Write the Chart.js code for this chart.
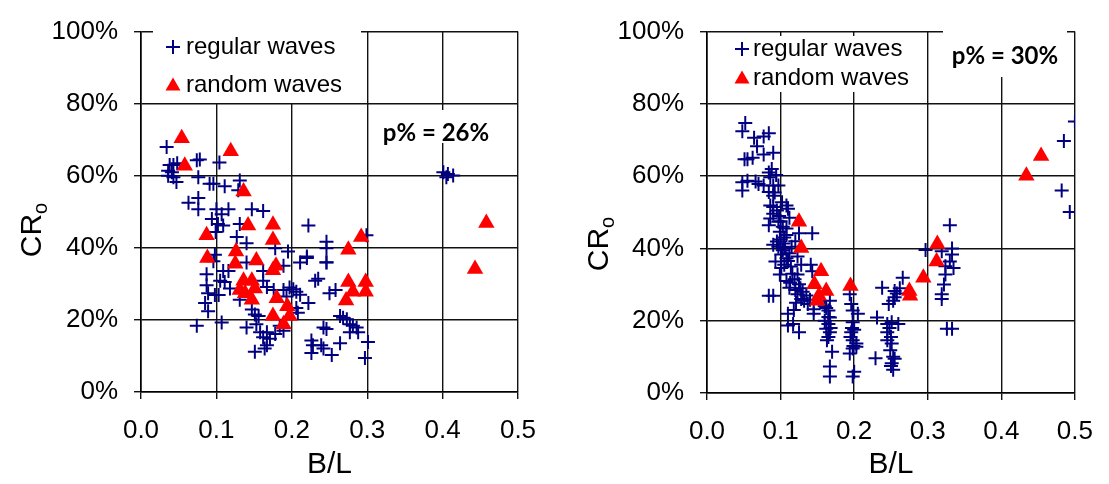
<!DOCTYPE html>
<html>
<head>
<meta charset="utf-8">
<script src="https://cdn.jsdelivr.net/npm/chart.js@4.4.1/dist/chart.umd.min.js"></script>
<style>
  html, body { margin: 0; padding: 0; background: #fff; }
  #wrap { position: relative; width: 1109px; height: 484px; overflow: hidden; }
  .panel { position: absolute; top: 0; height: 484px; }
  #p1 { left: 0; width: 555px; }
  #p2 { left: 555px; width: 554px; }
</style>
</head>
<body>
<div id="wrap">
  <div class="panel" id="p1"><canvas id="c1"></canvas></div>
  <div class="panel" id="p2"><canvas id="c2"></canvas></div>
</div>
<script>
// axis ticks
const xTicks = [0, 0.1, 0.2, 0.3, 0.4, 0.5];
const yTicks = [0, 20, 40, 60, 80, 100];

// left panel (p% = 26%)
const leftRegularX = [0.034,0.038,0.043,0.048,0.036,0.041,0.036,0.043,0.047,0.074,0.078,0.104,0.076,0.091,0.096,0.111,0.131,0.129,0.063,0.076,
  0.076,0.100,0.116,0.147,0.162,0.094,0.102,0.109,0.107,0.131,0.222,0.099,0.127,0.140,0.246,0.246,0.299,0.098,0.096,0.140,
  0.178,0.195,0.220,0.211,0.189,0.246,0.087,0.109,0.116,0.162,0.087,0.105,0.111,0.231,0.235,0.162,0.089,0.098,0.103,0.118,
  0.085,0.089,0.131,0.167,0.176,0.197,0.202,0.206,0.211,0.189,0.193,0.222,0.206,0.208,0.147,0.151,0.156,0.250,0.258,0.074,
  0.107,0.140,0.153,0.158,0.167,0.162,0.171,0.178,0.184,0.189,0.242,0.246,0.264,0.268,0.273,0.277,0.281,0.286,0.277,0.288,
  0.226,0.228,0.239,0.226,0.242,0.253,0.264,0.151,0.164,0.167,0.301,0.297,0.401,0.407,0.414,0.405,0.220,0.246];
const leftRegularY = [68,63,63,63.5,61.4,61,60,59.6,58.3,64.3,64.5,63.7,59.6,57.8,57.8,57.1,58.7,56,52.5,53.8,
  50.7,50.7,50.7,50.7,50.2,48,46.6,46.2,49.3,46.6,46.2,44.4,43,41.3,41.7,39.9,43.5,38.1,36.3,35.9,
  39.9,39,37.2,35.9,35,35.9,32.7,33.6,33.6,33.6,29.6,30.9,30.5,30.9,31.4,30.9,27.4,26.9,26.9,28.7,
  24.7,22.4,25.6,29.1,28.3,29,28.5,27.8,27,28.3,26.5,24.7,23.3,22,22.9,21.5,21.1,27.4,28.3,18.4,
  19.3,17.9,18.8,16.6,16.6,15.2,14.8,16.1,18.4,17,17.9,17.5,21.1,20.6,20.2,18.8,18.4,17.9,16.6,16.6,
  14.3,13,13,10.8,12.1,10.3,13.5,11.2,12.1,13,13.9,9.4,61,60.5,60.1,59.6,37.6,36];
const leftRandomX = [0.054,0.119,0.058,0.136,0.142,0.175,0.175,0.087,0.292,0.126,0.088,0.275,0.125,0.153,0.175,0.179,0.136,
  0.147,0.131,0.151,0.138,0.147,0.180,0.194,0.197,0.175,0.189,0.275,0.281,0.298,0.298,0.272,0.458,0.443];
const leftRandomY = [70.4,66.8,62.8,55.6,46.2,46.4,42.2,43.5,43,39,37.2,39.5,35.6,36.5,33.8,35,30.9,
  30.9,28.3,28.7,27.4,25.6,26,23.8,21.1,21.1,18.8,30.5,27.8,30.5,27.8,25.4,46.9,34.1];

// right panel (p% = 30%)
const rightRegularX = [0.052,0.048,0.064,0.077,0.084,0.068,0.077,0.090,0.051,0.055,0.062,0.084,0.086,0.048,0.055,0.066,0.070,0.048,0.077,0.090,
  0.097,0.084,0.090,0.086,0.090,0.108,0.110,0.090,0.086,0.084,0.097,0.108,0.099,0.108,0.125,0.143,0.095,0.104,0.106,0.101,
  0.108,0.112,0.093,0.101,0.099,0.123,0.128,0.123,0.141,0.143,0.108,0.112,0.084,0.090,0.125,0.123,0.128,0.137,0.145,0.145,
  0.121,0.132,0.110,0.110,0.117,0.125,0.167,0.165,0.167,0.165,0.167,0.163,0.170,0.167,0.167,0.194,0.196,0.198,0.205,0.198,
  0.196,0.198,0.203,0.198,0.194,0.200,0.198,0.231,0.238,0.229,0.247,0.253,0.255,0.266,0.245,0.251,0.260,0.245,0.245,0.251,
  0.249,0.253,0.251,0.253,0.297,0.319,0.324,0.324,0.322,0.319,0.319,0.330,0.333,0.333,0.330,0.335,0.326,0.333,0.500,0.485,
  0.482,0.493,
  0.088,0.094,0.092,0.095,0.102,0.098,0.100,0.103,0.112,0.105,0.100,0.120,0.115,0.090,0.097,0.103,0.110,0.114,0.105,0.116,
  0.119,0.113,0.127,0.130,0.135,0.140,0.118,0.120,0.160,0.162,0.165,0.160,0.168,0.162,0.165,0.197,0.200,0.195,0.199,0.203,
  0.248,0.250,0.255,0.250,0.255,0.258,0.262];
const rightRegularY = [74.7,72.4,70.6,71,71.9,68.3,66,66.5,64.7,64.7,65.1,61,59.7,58.3,58.7,58.5,57.8,56,57.4,57.4,
  57.4,55.6,54.6,51.9,51.5,51.9,51,49.6,48.3,46.4,47.4,45.5,44.6,43.7,44.2,44.2,41.9,41.4,40.1,38.3,
  37.3,38.7,36.4,34.6,32.8,37.8,35.5,32.8,35.5,33.7,31,29.1,26.9,26.9,30.1,27.3,26,24.6,23.2,21.9,
  25,25.5,21.9,18.7,19.1,16.8,25.5,22.8,20.9,19.1,16.8,14.6,11.4,7.3,4.6,27.3,24.6,22.8,21.9,19.6,
  16.8,14.6,13.7,12.3,10.9,5.9,4.6,20.9,29.1,9.6,24.6,25.5,28.2,31.9,19.1,19.6,19.1,16.8,14.6,13.7,
  11.8,10,8.2,6.4,39.6,39.2,35.1,32.8,30,27.3,26,46.4,40,38.3,36.4,34.6,17.8,17.8,75.1,69.7,
  56,50.1,
  62,60.3,55.5,50.5,52.8,49,47.5,46,48.5,43,42.5,42,40.5,41,40.5,39.5,36.5,35,35.5,33,
  31.5,30.5,29,28,27,25.8,23,28.5,24,23.5,21,20,18,17.8,15.5,18,17.5,15.5,13,12.8,
  18,15.5,9.5,7.5,26.5,27.5,29];
const rightRandomX = [0.454,0.434,0.125,0.128,0.155,0.146,0.162,0.152,0.150,0.195,0.275,0.276,0.294,0.312,0.313];
const rightRandomY = [65.6,60.1,47.4,40.1,33.7,30.1,28.2,26.9,25.5,29.6,28.2,26.9,31.9,36.4,41.2];

const NAVY = '#000080';
const RED = '#ff0000';
const FONT = "'Liberation Sans', Arial, sans-serif";

const zip = (xs, ys) => xs.map((x, i) => ({ x: x, y: ys[i] }));

// legend boxes, p% label, CR_o title
const overlay = {
  id: 'overlay',
  beforeDatasetsDraw(chart, args, o) {
    const ctx = chart.ctx;
    ctx.save();
    ctx.fillStyle = '#fff';
    o.boxes.forEach(b => ctx.fillRect(b[0], b[1], b[2], b[3]));
    ctx.restore();
  },
  afterDatasetsDraw(chart, args, o) {
    const ctx = chart.ctx;
    ctx.save();

    // legend: cross
    const lx = o.legend.x, y1 = o.legend.y1, y2 = o.legend.y2;
    ctx.strokeStyle = NAVY;
    ctx.lineWidth = 2;
    ctx.beginPath();
    ctx.moveTo(lx - 7, y1); ctx.lineTo(lx + 7, y1);
    ctx.moveTo(lx, y1 - 7); ctx.lineTo(lx, y1 + 7);
    ctx.stroke();
    // legend: triangle
    ctx.fillStyle = RED;
    ctx.beginPath();
    ctx.moveTo(lx, y2 - 7.5);
    ctx.lineTo(lx + 7.5, y2 + 5.5);
    ctx.lineTo(lx - 7.5, y2 + 5.5);
    ctx.closePath();
    ctx.fill();

    ctx.fillStyle = '#000';
    ctx.font = '24px ' + FONT;
    ctx.textBaseline = 'middle';
    ctx.textAlign = 'left';
    ctx.fillText('regular waves', o.legend.tx, y1);
    ctx.fillText('random waves', o.legend.tx, y2);

    // p% label
    ctx.font = "bold 24px Lato, 'Open Sans', sans-serif";
    ctx.textAlign = 'center';
    ctx.fillText(o.pText, o.p.x, o.p.y);

    // y title CR with subscript o
    ctx.translate(o.title.x, o.title.y);
    ctx.rotate(-Math.PI / 2);
    ctx.font = '30px ' + FONT;
    const wCR = ctx.measureText('CR').width;
    ctx.font = '20px ' + FONT;
    const wO = ctx.measureText('o').width;
    const start = -(wCR + wO) / 2;
    ctx.textAlign = 'left';
    ctx.textBaseline = 'alphabetic';
    ctx.font = '30px ' + FONT;
    ctx.fillText('CR', start, 11);
    ctx.font = '20px ' + FONT;
    ctx.fillText('o', start + wCR, 17);
    ctx.restore();
  }
};

function makeChart(id, regular, random, lay) {
  return new Chart(document.getElementById(id), {
    type: 'scatter',
    data: {
      datasets: [
        {
          label: 'regular waves',
          data: regular,
          order: 1,
          pointStyle: 'cross',
          pointRadius: 7,
          borderWidth: 2,
          borderColor: NAVY,
          backgroundColor: NAVY
        },
        {
          label: 'random waves',
          data: random,
          order: 0,
          pointStyle: 'triangle',
          pointRadius: 9.5,
          borderWidth: 0,
          borderColor: RED,
          backgroundColor: RED
        }
      ]
    },
    options: {
      responsive: true,
      maintainAspectRatio: false,
      animation: false,
      events: [],
      layout: { padding: { left: 0, top: lay.top, right: lay.right, bottom: 0 } },
      plugins: {
        legend: { display: false },
        tooltip: { enabled: false },
        overlay: lay.overlay
      },
      scales: {
        x: {
          type: 'linear',
          min: xTicks[0],
          max: xTicks[xTicks.length - 1],
          afterBuildTicks: s => { s.ticks = xTicks.map(v => ({ value: v })); },
          afterFit: s => { s.height = lay.xH; },
          grid: { color: '#111', lineWidth: 1.4, tickLength: 7 },
          border: { color: '#000', width: 1.6 },
          ticks: {
            color: '#000',
            padding: 16,
            maxRotation: 0,
            font: { family: FONT, size: 26 },
            callback: v => v.toFixed(1)
          },
          title: {
            display: true,
            text: 'B/L',
            color: '#000',
            font: { family: FONT, size: 30 },
            padding: { top: 0, bottom: 1 }
          }
        },
        y: {
          type: 'linear',
          min: yTicks[0],
          max: yTicks[yTicks.length - 1],
          afterBuildTicks: s => { s.ticks = yTicks.map(v => ({ value: v })); },
          afterFit: s => { s.width = lay.yW; },
          grid: { color: '#111', lineWidth: 1.4, tickLength: 7 },
          border: { color: '#000', width: 1.6 },
          ticks: {
            color: '#000',
            padding: 16,
            font: { family: FONT, size: 26 },
            callback: v => v + '%'
          }
        }
      }
    },
    plugins: [overlay]
  });
}

makeChart('c1', zip(leftRegularX, leftRegularY), zip(leftRandomX, leftRandomY), {
  top: 20, right: 37, xH: 92, yW: 141,
  overlay: {
    boxes: [[153, 25, 208, 78], [376, 110, 121, 33]],
    legend: { x: 173, y1: 47, y2: 85, tx: 186 },
    pText: 'p% = 26%',
    p: { x: 436, y: 133 },
    title: { x: 30, y: 230 }
  }
});

makeChart('c2', zip(rightRegularX, rightRegularY), zip(rightRandomX, rightRandomY), {
  top: 27, right: 24, xH: 91, yW: 152,
  overlay: {
    boxes: [[160, 36, 208, 56], [388, 30, 124, 47]],
    legend: { x: 187, y1: 49, y2: 78, tx: 198 },
    pText: 'p% = 30%',
    p: { x: 450, y: 56 },
    title: { x: 42, y: 244 }
  }
});
</script>
</body>
</html>
